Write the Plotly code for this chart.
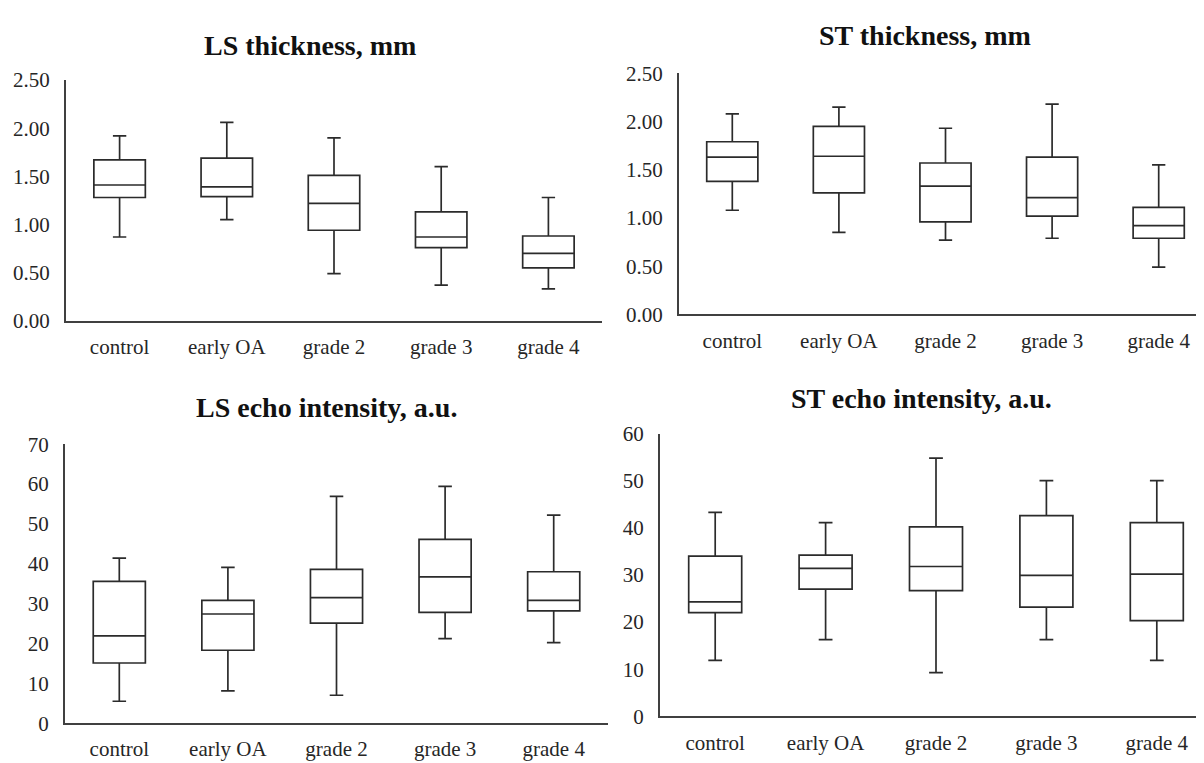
import plotly.graph_objects as go

categories = ["control", "early OA", "grade 2", "grade 3", "grade 4"]

# LS thickness, mm
ls_th_low = [0.87, 1.05, 0.49, 0.37, 0.33]
ls_th_q1 = [1.28, 1.29, 0.94, 0.76, 0.55]
ls_th_med = [1.41, 1.39, 1.22, 0.87, 0.70]
ls_th_q3 = [1.67, 1.69, 1.51, 1.13, 0.88]
ls_th_up = [1.92, 2.06, 1.90, 1.60, 1.28]

# ST thickness, mm
st_th_low = [1.08, 0.85, 0.77, 0.79, 0.49]
st_th_q1 = [1.38, 1.26, 0.96, 1.02, 0.79]
st_th_med = [1.63, 1.64, 1.33, 1.21, 0.92]
st_th_q3 = [1.79, 1.95, 1.57, 1.63, 1.11]
st_th_up = [2.08, 2.15, 1.93, 2.18, 1.55]

# LS echo intensity, a.u.
ls_ei_low = [5.5, 8.1, 7.0, 21.2, 20.2]
ls_ei_q1 = [15.1, 18.3, 25.1, 27.8, 28.2]
ls_ei_med = [21.9, 27.4, 31.5, 36.7, 30.8]
ls_ei_q3 = [35.6, 30.8, 38.6, 46.1, 38.0]
ls_ei_up = [41.4, 39.1, 56.9, 59.4, 52.2]

# ST echo intensity, a.u.
st_ei_low = [11.9, 16.3, 9.3, 16.3, 11.9]
st_ei_q1 = [22.0, 27.0, 26.7, 23.2, 20.3]
st_ei_med = [24.3, 31.4, 31.8, 29.9, 30.2]
st_ei_q3 = [34.0, 34.2, 40.2, 42.6, 41.1]
st_ei_up = [43.3, 41.1, 54.8, 50.0, 50.0]

titles = ["LS thickness, mm", "ST thickness, mm",
          "LS echo intensity, a.u.", "ST echo intensity, a.u."]

W, H = 1204, 763
FONT = "'Liberation Serif', 'Times New Roman', Times, 'DejaVu Serif', serif"
LINE = "#2b2b2b"
TXT = "#262626"

panels = [
    dict(data=(ls_th_low, ls_th_q1, ls_th_med, ls_th_q3, ls_th_up),
         xpx=(58, 594), ypx=(310.5, 62), yr=(0, 2.5), dtick=0.5, fmt=".2f",
         title_px=(302, 26)),
    dict(data=(st_th_low, st_th_q1, st_th_med, st_th_q3, st_th_up),
         xpx=(671, 1204), ypx=(304, 55), yr=(0, 2.5), dtick=0.5, fmt=".2f",
         title_px=(917, 16)),
    dict(data=(ls_ei_low, ls_ei_q1, ls_ei_med, ls_ei_q3, ls_ei_up),
         xpx=(57, 600), ypx=(726, 438), yr=(0, 70), dtick=10, fmt="d",
         title_px=(318, 400)),
    dict(data=(st_ei_low, st_ei_q1, st_ei_med, st_ei_q3, st_ei_up),
         xpx=(652, 1204), ypx=(719, 427), yr=(0, 60), dtick=10, fmt="d",
         title_px=(913, 391)),
]

fig = go.Figure()
annotations = []
for i, p in enumerate(panels):
    n = "" if i == 0 else str(i + 1)
    low, q1, med, q3, up = p["data"]
    fig.add_trace(go.Box(
        x=categories, lowerfence=low, q1=q1, median=med, q3=q3, upperfence=up,
        xaxis="x" + n, yaxis="y" + n,
        fillcolor="white", line=dict(color=LINE, width=1.7),
        width=0.48, whiskerwidth=0.26, boxpoints=False,
        showlegend=False, hoverinfo="skip",
    ))
    xd = [p["xpx"][0] / W, p["xpx"][1] / W]
    yd = [1 - p["ypx"][0] / H, 1 - p["ypx"][1] / H]
    fig.update_layout(**{
        "xaxis" + n: dict(domain=xd, anchor="y" + n, range=[-0.5, 4.5],
                          showline=True, linecolor="#404040", linewidth=2,
                          showgrid=False, zeroline=False, ticks="",
                          ticklabelstandoff=6,
                          tickfont=dict(family=FONT, size=21, color=TXT)),
        "yaxis" + n: dict(domain=yd, anchor="x" + n, range=list(p["yr"]),
                          dtick=p["dtick"], tickformat=p["fmt"],
                          showline=True, linecolor="#404040", linewidth=2,
                          showgrid=False, zeroline=False, ticks="",
                          ticklabelstandoff=10,
                          tickfont=dict(family=FONT, size=21, color=TXT)),
    })
    annotations.append(dict(
        text="<b>" + titles[i] + "</b>", xref="paper", yref="paper",
        x=p["title_px"][0] / W, y=1 - p["title_px"][1] / H,
        xanchor="center", yanchor="middle", showarrow=False,
        font=dict(family=FONT, size=28, color="#111111"),
    ))

fig.update_layout(
    width=W, height=H, margin=dict(l=0, r=0, t=0, b=0),
    paper_bgcolor="white", plot_bgcolor="white",
    font=dict(family=FONT),
    annotations=annotations,
)

fig.write_html("out.html")
